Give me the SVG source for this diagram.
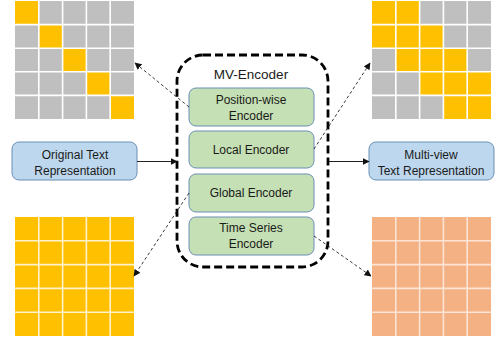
<svg xmlns="http://www.w3.org/2000/svg" width="496" height="344" viewBox="0 0 496 344">
<defs>
<style>
.g{fill:#BFBFBF}
.y{fill:#FFC000}
.o{fill:#F4B183}
.enc{fill:#C5E0B4;stroke:#6A8FB5;stroke-width:1}
.blue{fill:#BDD7EE;stroke:#6A8FB5;stroke-width:1}
text{font-family:"Liberation Sans",Arial,sans-serif;font-size:12px;fill:#1a1a1a;text-anchor:middle;dominant-baseline:central}
.dash{fill:none;stroke:#222;stroke-width:0.9;stroke-dasharray:3,2.5}
.solid{fill:none;stroke:#222;stroke-width:1}
</style>
<marker id="ah" viewBox="0 0 10 10" refX="9" refY="5" markerWidth="7" markerHeight="7" orient="auto" markerUnits="userSpaceOnUse">
<path d="M0,0 L10,5 L0,10 z" fill="#111"/>
</marker>
<pattern id="gridlines" x="15" y="1" width="23.8" height="23.6" patternUnits="userSpaceOnUse">
<rect width="23.8" height="23.6" fill="none" stroke="#fff" stroke-width="1.6"/>
</pattern>
</defs>

<g id="grid-top-left">
<rect x="15" y="1" width="119" height="118" class="g"/>
<rect x="15" y="1" width="23.8" height="23.6" class="y"/>
<rect x="38.8" y="24.6" width="23.8" height="23.6" class="y"/>
<rect x="62.6" y="48.2" width="23.8" height="23.6" class="y"/>
<rect x="86.4" y="71.8" width="23.8" height="23.6" class="y"/>
<rect x="110.2" y="95.4" width="23.8" height="23.6" class="y"/>
<g stroke="#fff" stroke-width="1.6">
<line x1="38.8" y1="1" x2="38.8" y2="119"/><line x1="62.6" y1="1" x2="62.6" y2="119"/><line x1="86.4" y1="1" x2="86.4" y2="119"/><line x1="110.2" y1="1" x2="110.2" y2="119"/>
<line x1="15" y1="24.6" x2="134" y2="24.6"/><line x1="15" y1="48.2" x2="134" y2="48.2"/><line x1="15" y1="71.8" x2="134" y2="71.8"/><line x1="15" y1="95.4" x2="134" y2="95.4"/>
</g>
</g>

<g id="grid-top-right">
<rect x="372" y="1" width="119" height="118" class="g"/>
<rect x="372" y="1" width="47.6" height="23.6" class="y"/>
<rect x="372" y="24.6" width="71.4" height="23.6" class="y"/>
<rect x="395.8" y="48.2" width="71.4" height="23.6" class="y"/>
<rect x="419.6" y="71.8" width="71.4" height="23.6" class="y"/>
<rect x="443.4" y="95.4" width="47.6" height="23.6" class="y"/>
<g stroke="#fff" stroke-width="1.6">
<line x1="395.8" y1="1" x2="395.8" y2="119"/><line x1="419.6" y1="1" x2="419.6" y2="119"/><line x1="443.4" y1="1" x2="443.4" y2="119"/><line x1="467.2" y1="1" x2="467.2" y2="119"/>
<line x1="372" y1="24.6" x2="491" y2="24.6"/><line x1="372" y1="48.2" x2="491" y2="48.2"/><line x1="372" y1="71.8" x2="491" y2="71.8"/><line x1="372" y1="95.4" x2="491" y2="95.4"/>
</g>
</g>

<g id="grid-bottom-left">
<rect x="15" y="217" width="119" height="119" class="y"/>
<g stroke="#FFF2CC" stroke-width="1.6">
<line x1="38.8" y1="217" x2="38.8" y2="336"/><line x1="62.6" y1="217" x2="62.6" y2="336"/><line x1="86.4" y1="217" x2="86.4" y2="336"/><line x1="110.2" y1="217" x2="110.2" y2="336"/>
<line x1="15" y1="240.8" x2="134" y2="240.8"/><line x1="15" y1="264.6" x2="134" y2="264.6"/><line x1="15" y1="288.4" x2="134" y2="288.4"/><line x1="15" y1="312.2" x2="134" y2="312.2"/>
</g>
</g>

<g id="grid-bottom-right">
<rect x="372" y="217" width="119" height="119" class="o"/>
<g stroke="#FCE4D6" stroke-width="1.6">
<line x1="395.8" y1="217" x2="395.8" y2="336"/><line x1="419.6" y1="217" x2="419.6" y2="336"/><line x1="443.4" y1="217" x2="443.4" y2="336"/><line x1="467.2" y1="217" x2="467.2" y2="336"/>
<line x1="372" y1="240.8" x2="491" y2="240.8"/><line x1="372" y1="264.6" x2="491" y2="264.6"/><line x1="372" y1="288.4" x2="491" y2="288.4"/><line x1="372" y1="312.2" x2="491" y2="312.2"/>
</g>
</g>

<g id="mv-encoder">
<rect x="177" y="55" width="151" height="212" rx="26" fill="none" stroke="#000" stroke-width="2.8" stroke-dasharray="8,4"/>
<text x="251" y="74" style="font-size:13.5px">MV-Encoder</text>
</g>

<g id="position-wise-encoder">
<rect x="189" y="88" width="125" height="38" rx="7" class="enc"/>
<text x="251" y="100">Position-wise</text>
<text x="251" y="116">Encoder</text>
</g>
<g id="local-encoder">
<rect x="189" y="131" width="125" height="37" rx="7" class="enc"/>
<text x="251" y="150">Local Encoder</text>
</g>
<g id="global-encoder">
<rect x="189" y="174" width="125" height="38" rx="7" class="enc"/>
<text x="251" y="193">Global Encoder</text>
</g>
<g id="time-series-encoder">
<rect x="189" y="217" width="125" height="38" rx="7" class="enc"/>
<text x="251" y="228">Time Series</text>
<text x="251" y="244">Encoder</text>
</g>

<g id="original-text">
<rect x="12" y="142" width="125" height="38" rx="7" class="blue"/>
<text x="75" y="155">Original Text</text>
<text x="75" y="171">Representation</text>
</g>
<g id="multi-view-text">
<rect x="369" y="142" width="125" height="38" rx="7" class="blue"/>
<text x="431" y="155">Multi-view</text>
<text x="431" y="171">Text Representation</text>
</g>

<g id="connectors">
<line x1="137" y1="161.5" x2="177" y2="161.5" class="solid" marker-end="url(#ah)"/>
<line x1="329" y1="161.5" x2="369" y2="161.5" class="solid" marker-end="url(#ah)"/>
<line x1="189" y1="107" x2="135" y2="63" class="dash" marker-end="url(#ah)"/>
<line x1="314" y1="149" x2="370" y2="63" class="dash" marker-end="url(#ah)"/>
<line x1="189" y1="193" x2="134" y2="276" class="dash" marker-end="url(#ah)"/>
<line x1="314" y1="236" x2="371" y2="276" class="dash" marker-end="url(#ah)"/>
</g>
</svg>
